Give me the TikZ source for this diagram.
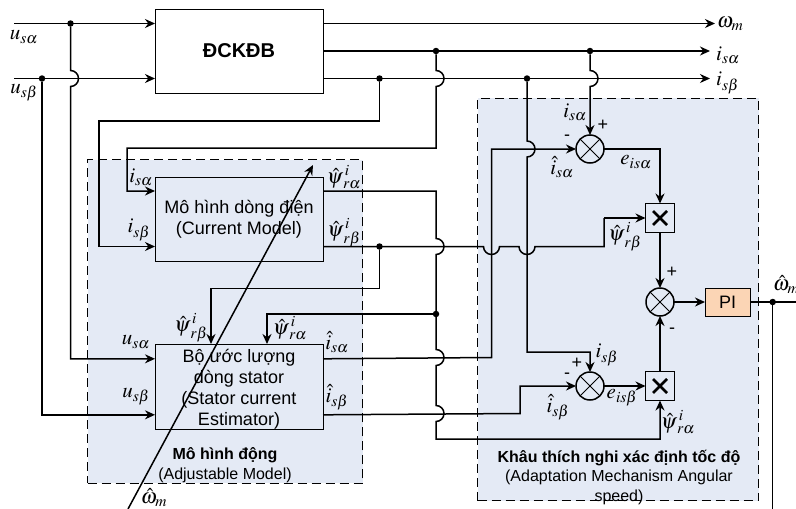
\documentclass[tikz,border=0pt]{standalone}
\usepackage{amsmath}
\usepackage{mathptmx}
\usepackage{fontspec}
\setmainfont{Liberation Sans}
\usetikzlibrary{arrows.meta,positioning}
\definecolor{panelblue}{HTML}{E4EAF5}
\definecolor{piorange}{HTML}{FBD5B5}
\newcommand{\vhop}[2]{-- (#1,#2-8) arc[start angle=90,end angle=-90,radius=8pt]}
\newcommand{\hhop}[2]{-- (#1-8,#2) arc[start angle=180,end angle=360,radius=8pt]}
\newcommand{\fluxhat}[1]{$\hat{\psi}^{\,i}_{\,r#1}$}
\begin{document}
\begin{tikzpicture}[
    x=1pt, y=-1pt,
    panel/.style={draw, dashed, dash pattern=on 9pt off 5pt, line width=1pt, fill=panelblue, inner sep=0pt, outer sep=0pt},
    block/.style={draw, line width=1pt, minimum width=168pt, minimum height=84pt, inner sep=0pt, outer sep=0pt, align=center, font=\fontsize{18}{21.3}\selectfont},
    sumdot/.style={circle, draw, line width=1.5pt, minimum size=28pt, inner sep=0pt, outer sep=0pt, path picture={\draw[line width=.9pt] (path picture bounding box.south west) -- (path picture bounding box.north east) (path picture bounding box.north west) -- (path picture bounding box.south east);}},
    multbox/.style={draw, line width=1.5pt, minimum size=29pt, inner sep=0pt, outer sep=0pt, path picture={\draw[line width=2.8pt] ([shift={(-7pt,-7pt)}]path picture bounding box.center) -- ([shift={(7pt,7pt)}]path picture bounding box.center) ([shift={(-7pt,7pt)}]path picture bounding box.center) -- ([shift={(7pt,-7pt)}]path picture bounding box.center);}},
    dot/.style={circle, fill=black, inner sep=0pt, minimum size=6.5pt},
    lab/.style={inner sep=0pt, font=\fontsize{21}{24}\selectfont},
    sign/.style={inner sep=0pt, font=\fontsize{18}{20}\selectfont},
    captext/.style={inner sep=0pt, align=center, font=\fontsize{16}{19.5}\selectfont},
    wire/.style={line width=1.5pt},
    arrow/.style={-{Stealth[length=10pt, width=9pt]}, line width=1.5pt}
]
    \useasboundingbox (0,0) rectangle (796,509);

    % Panels
    \node[panel, minimum width=275pt, minimum height=323.5pt] (adjpanel) at (225,321.7) {};
    \node[panel, minimum width=281pt, minimum height=402.5pt] (adaptpanel) at (618.2,299.7) {};

    % Blocks
    \node[block, minimum height=84pt, fill=white, font=\fontsize{20}{24}\selectfont\bfseries] (motor) at (239,51) {ĐCKĐB};
    \node[block, below=84pt of motor] (curmodel) {Mô hình dòng điện\\(Current Model)};
    \node[block, below=83pt of curmodel, minimum height=83.5pt] (estimator) {\rule{0pt}{18pt}Bộ ước lượng\\dòng stator\\(Stator current\\Estimator)};
    \node[sumdot] (erra) at (590,149) {};
    \node[sumdot] (errb) at (590,386) {};
    \node[multbox] (multa) at (660,218) {};
    \node[multbox] (multb) at (660,386) {};
    \node[sumdot] (sumw) at (660,302) {};
    \node[draw, line width=1pt, fill=piorange, minimum width=45pt, minimum height=28pt, inner sep=0pt, outer sep=0pt, font=\fontsize{18}{21}\selectfont, right=31pt of sumw] (pi) {PI};

    % Free ends
    \coordinate (usain) at (14,23.5);
    \coordinate (usbin) at (14,78.5);
    \coordinate (wmend) at (715,23.5);
    \coordinate (isaend) at (710,51);
    \coordinate (isbend) at (710,78.5);
    \coordinate (piend) at (796,302);
    \coordinate (speedend) at (772.7,509);
    \coordinate (wmtail) at (128,509);
    \coordinate (wmtip) at (313,165);

    % Junctions
    \node[dot] (jua) at (70.5,23.5) {};
    \node[dot] (jub) at (42,78.5) {};
    \node[dot] (jia) at (436,51) {};
    \node[dot] (jib) at (379.5,78.5) {};
    \node[dot] (jea) at (590,51) {};
    \node[dot] (jeb) at (527,78.5) {};
    \node[dot] (jpb) at (379.5,246.5) {};
    \node[dot] (jpa) at (436,314) {};
    \node[dot] (jpi) at (772.7,302) {};

    % Motor inputs and outputs
    \draw[arrow] (usain) -- (usain -| motor.west);
    \draw[arrow] (usbin) -- (usbin -| motor.west);
    \draw[arrow] (jua) \vhop{70.5}{78.5} |- ([yshift=28pt]estimator.west);
    \draw[arrow] (jub) |- ([yshift=-28pt]estimator.west);
    \draw[arrow] (motor.east |- wmend) -- (wmend);
    \draw[arrow] (motor.east |- isaend) -- (isaend);
    \draw[arrow] (motor.east |- isbend) -- (isbend);

    % Measured currents
    \draw[arrow] (jia) \vhop{436}{78.5} -- (436,148) -- (127,148) |- ([yshift=28pt]curmodel.west);
    \draw[arrow] (jib) -- (379.5,121) -- (99,121) |- ([yshift=-27.5pt]curmodel.west);
    \draw[arrow] (jea) \vhop{590}{78.5} -- (erra);
    \draw[arrow] (jeb) \vhop{527}{149} -- (527,352) -| (errb);

    % Flux paths
    \draw[wire] ([yshift=-27.5pt]curmodel.east) \hhop{491.5}{246.5} \hhop{527}{246.5} -- (604,246.5) -- (604,218);
    \draw[arrow] (604,218) -- (multa);
    \draw[arrow] ([yshift=28pt]curmodel.east) -- (436,191) \vhop{436}{246.5} \vhop{436}{357.5} \vhop{436}{413.5} -- (436,439) -| (multb);
    \draw[arrow] (jpb) -- (379.5,288.7) -| ([xshift=-28pt]estimator.north);
    \draw[arrow] (jpa) -- (267,314) -- ([xshift=28pt]estimator.north);

    % Estimated currents
    \draw[arrow] ([yshift=28pt]estimator.east) -- (491.5,357.5) -- (491.5,149) -- (erra);
    \draw[arrow] ([yshift=-28pt]estimator.east) -- (520,413.5) -- (520,386) -- (errb);

    % Speed path
    \draw[arrow] (erra) -| (multa);
    \draw[arrow] (errb) -- (multb);
    \draw[arrow] (multa) -- (sumw);
    \draw[arrow] (multb) -- (sumw);
    \draw[arrow] (sumw) -- (pi);
    \draw[wire] (pi) -- (piend);
    \draw[wire] (jpi) -- (speedend);
    \draw[arrow] (wmtail) -- (wmtip);

    % Labels
    \node[lab] (lusa) at (24,37) {$u_{s\alpha}$};
    \node[lab] (lusb) at (24,93) {$u_{s\beta}$};
    \node[lab, anchor=west] (lwm) at (717,24) {$\omega_m$};
    \node[lab, anchor=west] (lisa) at (716,55) {$i_{s\alpha}$};
    \node[lab, anchor=west] (lisb) at (716,83) {$i_{s\beta}$};
    \node[lab] (lcia) at (141,177) {$i_{s\alpha}$};
    \node[lab] (lcib) at (139,230) {$i_{s\beta}$};
    \node[lab] (lcpa) at (344,177) {\fluxhat{\alpha}};
    \node[lab] (lcpb) at (344,233) {\fluxhat{\beta}};
    \node[lab] (leua) at (136,342) {$u_{s\alpha}$};
    \node[lab] (leub) at (136,397) {$u_{s\beta}$};
    \node[lab] (lepb) at (191,328) {\fluxhat{\beta}};
    \node[lab] (lepa) at (290,328) {\fluxhat{\alpha}};
    \node[lab] (leia) at (337,342) {$\hat{i}_{s\alpha}$};
    \node[lab] (leib) at (337,397) {$\hat{i}_{s\beta}$};
    \node[lab] (laia) at (575,112) {$i_{s\alpha}$};
    \node[lab] (laha) at (562,167) {$\hat{i}_{s\alpha}$};
    \node[lab] (lea) at (636,162) {$e_{is\alpha}$};
    \node[lab] (lapb) at (625,237) {\fluxhat{\beta}};
    \node[lab] (laib) at (607,355) {$i_{s\beta}$};
    \node[lab] (lahb) at (558,407) {$\hat{i}_{s\beta}$};
    \node[lab] (leb) at (622,398) {$e_{is\beta}$};
    \node[lab] (lapa) at (678,422) {\fluxhat{\alpha}};
    \node[lab, anchor=west] (lspd) at (773,285) {$\hat{\omega}_m$};
    \node[lab] (lwmh) at (154,498) {$\hat{\omega}_m$};

    % Signs
    \node[sign] (spa) at (603,125) {+};
    \node[sign] (sma) at (567,138) {-};
    \node[sign] (sps) at (672,272) {+};
    \node[sign] (sms) at (672,331) {-};
    \node[sign] (spb) at (577,363) {+};
    \node[sign] (smb) at (567,376) {-};

    % Panel captions
    \node[captext] (capadj) at (225,465) {\textbf{Mô hình động}\\(Adjustable Model)};
    \node[captext] (capadapt) at (619,477.5) {\textbf{Khâu thích nghi xác định tốc độ}\\(Adaptation Mechanism Angular\\speed)};
\end{tikzpicture}
\end{document}
